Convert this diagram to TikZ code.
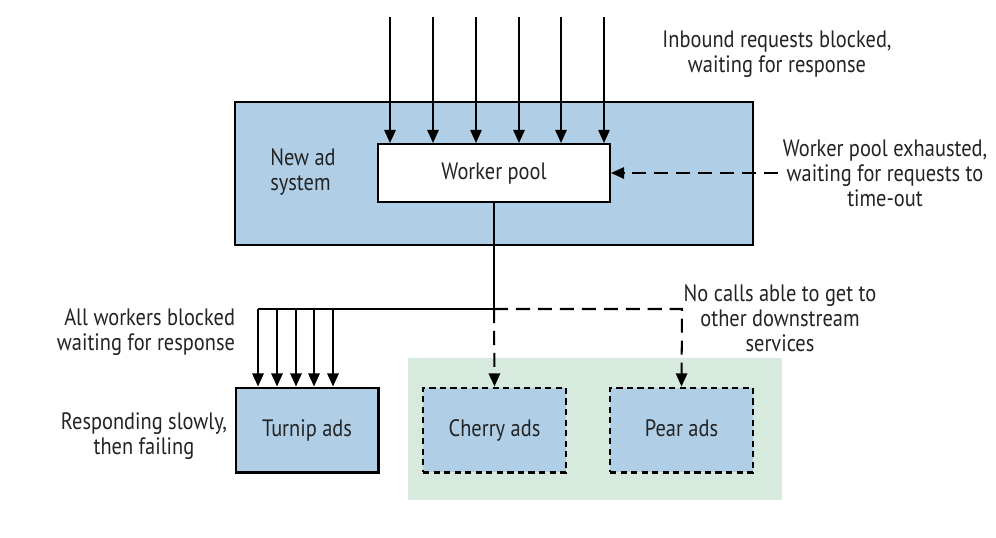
\documentclass[tikz,border=0pt]{standalone}
\usepackage{fontspec}
\setmainfont{PT Sans}[FakeStretch=0.86]
\usepackage{xcolor}
\definecolor{adblue}{RGB}{176,207,231}
\definecolor{calmgreen}{RGB}{214,235,222}
\definecolor{ink}{RGB}{35,35,35}
\usetikzlibrary{arrows.meta}

\begin{document}
\begin{tikzpicture}[x=0.02cm, y=-0.02cm, >={Triangle[length=7.5pt,width=6.5pt]}, line width=1.15pt,
  svcbox/.style={draw, fill=adblue, minimum width=2.86cm, minimum height=1.7cm, inner sep=0pt, text=ink, text height=1.8ex, text depth=0.4ex, font=\fontsize{13.5}{14.2}\selectfont},
  note/.style={align=center, text=ink, font=\fontsize{13.5}{14.2}\selectfont},
  dashline/.style={dash pattern=on 8pt off 4.5pt},
  dashbox/.style={dash pattern=on 3.5pt off 2.5pt}]
  \useasboundingbox (0,0) rectangle (996,537);
  % services that are still fine
  \fill[calmgreen] (408,358) rectangle (782,500);
  % the ad system and its pool
  \node[svcbox, minimum width=10.36cm, minimum height=2.86cm] (adsys) at (494,173.5) {};
  \node[note, align=left] (adlabel) at (303,172) {New ad\\system};
  \node[svcbox, fill=white, minimum width=4.64cm, minimum height=1.16cm] (pool) at (494,173) {Worker pool};
  % downstream services
  \node[svcbox] (turnip) at (307,430) {Turnip ads};
  \node[svcbox, dashbox] (cherry) at (494.5,430) {Cherry ads};
  \node[svcbox, dashbox] (pear) at (681.5,430) {Pear ads};
  % inbound requests
  \foreach \x [count=\i] in {390,433,476,519,561,604} {
    \coordinate (in\i) at (\x,17);
    \draw[->] (in\i) -- (in\i |- pool.north);
  }
  % calls going out
  \coordinate (split) at (494,309);
  \coordinate (tleft) at (258,309);
  \coordinate (pcorner) at (682,309);
  \draw (pool.south) -- (split) -- (tleft);
  \foreach \x [count=\i] in {258,277,296,314,333} {
    \coordinate (t\i) at (\x,309);
    \draw[->] (t\i) -- (t\i |- turnip.north);
  }
  \draw[->, dashline] (split) -- (cherry.north);
  \draw[->, dashline] (split) -- (pcorner) -- (pear.north);
  % timeouts
  \coordinate (tout) at (778,173);
  \draw[->, dashline] (tout) -- (pool.east);
  % notes
  \node[note] (inbound) at (777,54) {Inbound requests blocked,\\waiting for response};
  \node[note] (exhaust) at (885,173) {Worker pool exhausted,\\waiting for requests to\\time-out};
  \node[note] (nocalls) at (780,318) {No calls able to get to\\other downstream\\services};
  \node[note, align=right] (blocked) at (146,332) {All workers blocked\\waiting for response};
  \node[note] (slow) at (144,436) {Responding slowly,\\then failing};
\end{tikzpicture}
\end{document}
